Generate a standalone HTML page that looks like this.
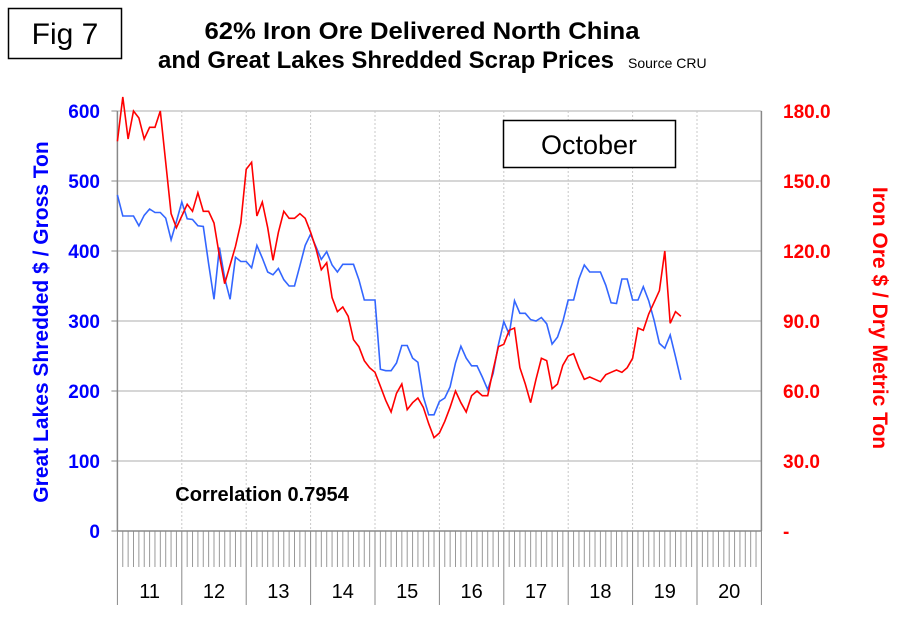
<!DOCTYPE html>
<html><head><meta charset="utf-8"><style>
html,body{margin:0;padding:0;background:#fff;}
svg{display:block;font-family:"Liberation Sans",Arial,sans-serif;}
</style></head><body>
<svg id="chart" width="900" height="622" viewBox="0 0 900 622">
<rect x="0" y="0" width="900" height="622" fill="#fff"/>
<rect x="8.5" y="8.5" width="113" height="50" fill="#fff" stroke="#000" stroke-width="1.5"/>
<text x="65" y="44" font-size="30" text-anchor="middle">Fig 7</text>
<text x="422" y="39" font-size="24" font-weight="bold" text-anchor="middle" textLength="435" lengthAdjust="spacingAndGlyphs">62% Iron Ore Delivered North China</text>
<text x="386" y="68" font-size="24" font-weight="bold" text-anchor="middle" textLength="456" lengthAdjust="spacingAndGlyphs">and Great Lakes Shredded Scrap Prices</text>
<text x="628" y="68" font-size="14">Source CRU</text>
<g id="grid"></g>
<g id="axes"></g>
<g id="series"></g>
<rect x="503.5" y="120.5" width="172" height="47" fill="#fff" stroke="#000" stroke-width="1.5"/>
<text x="589" y="154" font-size="27" text-anchor="middle">October</text>
<text x="262" y="501" font-size="20" font-weight="bold" text-anchor="middle">Correlation 0.7954</text>
<text transform="translate(48,322) rotate(-90)" font-size="21" font-weight="bold" fill="#0000ff" text-anchor="middle">Great Lakes Shredded $ / Gross Ton</text>
<text transform="translate(873,318) rotate(90)" font-size="21" font-weight="bold" fill="#ff0000" text-anchor="middle">Iron Ore $ / Dry Metric Ton</text>
</svg>
<script>
const yearLabels = ["11","12","13","14","15","16","17","18","19","20"];
const leftTicks = [0,100,200,300,400,500,600];
const rightTickLabels = ["-","30.0","60.0","90.0","120.0","150.0","180.0"];
const scrapPrices = [480,450,450,450,436,451,460,455,455,447,416,442,
470,446,445,436,435,382,331,405,361,331,391,385,
385,376,408,390,370,366,375,359,350,350,379,408,
424,406,388,399,380,370,381,381,381,359,330,330,
330,231,229,229,240,265,265,247,241,192,166,166,
185,190,206,240,264,247,236,236,220,202,225,266,
299,281,329,311,311,302,300,305,296,267,277,299,
330,330,360,380,370,370,370,351,326,325,360,360,
330,330,349,329,301,268,261,280,249,216];
const oreprices = [167,186,168,180,177,168,173,173,180,158,136,130,
135,140,137,145,137,137,132,118,106,114,122,132,
155,158,135,141,130,116,128,137,134,134,136,134,
128,121,112,115,100,94,96,92,82,79,73,70,
68,62,56,51,59,63,52,55,57,53,46,40,
42,47,53,60,55,51,58,60,58,58,69,79,
80,86,87,70,63,55,65,74,73,61,63,71,
75,76,70,65,66,65,64,67,68,69,68,70,
74,87,86,93,98,103,120,89,94,92];

const X0=117.4, X1=761.4, Y0=531, YT=111;
const NS="http://www.w3.org/2000/svg";
const xm = m => X0 + (X1-X0)/120*m;
const yl = v => Y0 - (Y0-YT)*v/600;
const yr = v => Y0 - (Y0-YT)*v/180;
function mk(tag, attrs, parent){const e=document.createElementNS(NS,tag);for(const k in attrs)e.setAttribute(k,attrs[k]);parent.appendChild(e);return e;}
const grid=document.getElementById('grid'), axes=document.getElementById('axes'), series=document.getElementById('series');

leftTicks.forEach((v,i)=>{
  const y=yl(v);
  if(v>0){const g=mk('line',{x1:X0,x2:X1,y1:y,y2:y,stroke:'#c8c8c8','stroke-width':1.5},grid);
  
  }
  const t=mk('text',{x:100,y:y+7,'font-size':19,'font-weight':'bold',fill:'#0000ff','text-anchor':'end'},axes);
  t.textContent=String(v);
  
  
  const r=mk('text',{x:783,y:y+7,'font-size':19,'font-weight':'bold',fill:'#ff0000'},axes);
  r.textContent=rightTickLabels[i];
  
  
  const tk=mk('line',{x1:X0-6,x2:X0,y1:y,y2:y,stroke:'#888'},axes);
  
  
});
for(let k=1;k<10;k++){
  const x=xm(k*12);
  const g=mk('line',{x1:x,x2:x,y1:YT,y2:Y0,stroke:'#c8c8c8','stroke-dasharray':'2,2'},grid);
  
  
}
for(let m=0;m<120;m++){
  if(m%12===0) continue;
  const x=xm(m);
  const t=mk('line',{x1:x,x2:x,y1:Y0,y2:567,stroke:'#999'},axes);
  
  
}
for(let k=0;k<=10;k++){
  const x=xm(k*12);
  const t=mk('line',{x1:x,x2:x,y1:Y0,y2:605,stroke:'#888'},axes);
  
  
}
yearLabels.forEach((lab,k)=>{
  const t=mk('text',{x:xm(k*12+6),y:598,'font-size':20,'text-anchor':'middle'},axes);
  t.textContent=lab;
  
  
});
const la=mk('line',{x1:X0,x2:X0,y1:YT,y2:Y0,stroke:'#888','stroke-width':1.5},axes);


const ra=mk('line',{x1:X1,x2:X1,y1:YT,y2:Y0,stroke:'#888','stroke-width':1.5},axes);


const xa=mk('line',{x1:X0,x2:X1,y1:Y0,y2:Y0,stroke:'#888','stroke-width':1.5},axes);



const bp=mk('polyline',{points:scrapPrices.map((v,i)=>xm(i).toFixed(1)+','+yl(v).toFixed(1)).join(' '),fill:'none',stroke:'#3366ff','stroke-width':1.6},series);


const rp=mk('polyline',{points:oreprices.map((v,i)=>xm(i).toFixed(1)+','+yr(v).toFixed(1)).join(' '),fill:'none',stroke:'#ff0000','stroke-width':1.6},series);


</script>
</body></html>
